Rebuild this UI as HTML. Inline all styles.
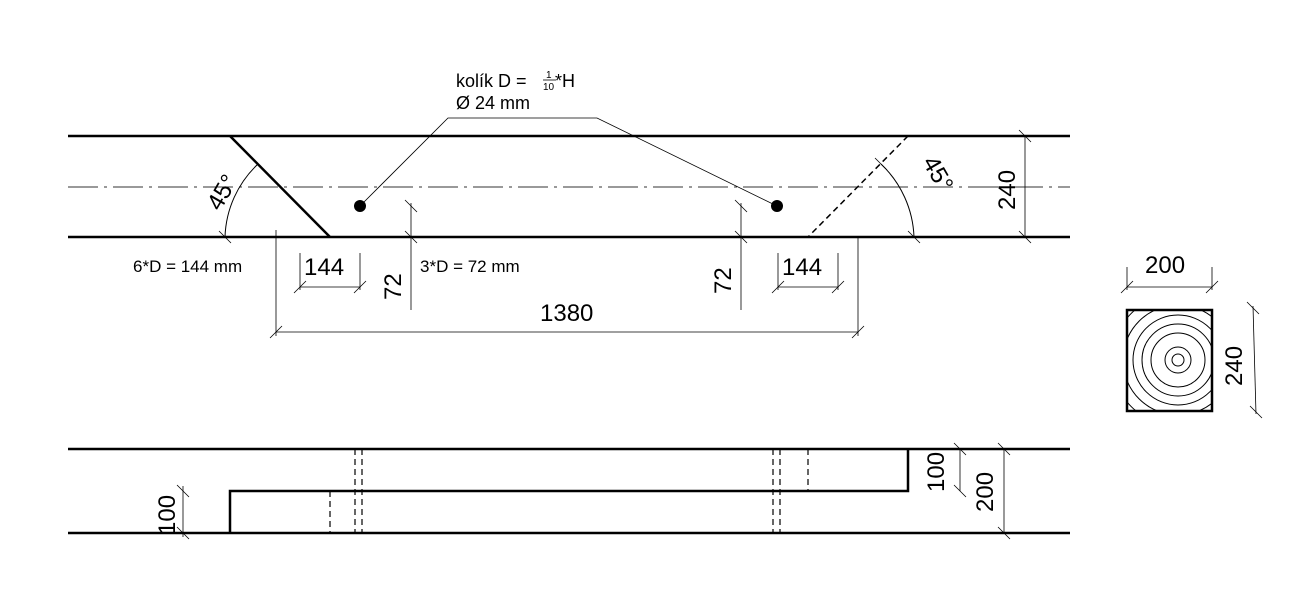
<!DOCTYPE html>
<html><head><meta charset="utf-8"><style>html,body{margin:0;padding:0;background:#fff}svg{display:block}text{font-family:"Liberation Sans",Arial,sans-serif;fill:#000}</style></head><body>
<svg width="1301" height="611" viewBox="0 0 1301 611" xmlns="http://www.w3.org/2000/svg">
<defs><clipPath id="cs"><rect x="1128" y="311" width="83" height="99"/></clipPath></defs>
<g stroke="#000" fill="none">
<line x1="68" y1="136" x2="1070" y2="136" stroke-width="2.5"/>
<line x1="68" y1="237" x2="1070" y2="237" stroke-width="2.5"/>
<line x1="68" y1="187" x2="1070" y2="187" stroke-width="1" stroke="#333" stroke-dasharray="30,6,3,6"/>
<line x1="230" y1="136" x2="330" y2="237" stroke-width="2.5"/>
<line x1="908" y1="136" x2="808" y2="237" stroke-width="1.5" stroke-dasharray="6,4"/>
<polyline points="360,206 448,118 597,118 777,206" stroke-width="0.8"/>
<path d="M225,237 A105,105 0 0 1 258,164" stroke-width="1"/>
<path d="M914,237 A106,106 0 0 0 881,164" stroke-width="1"/>
<g stroke-width="0.8">
<line x1="219" y1="231" x2="231" y2="243"/><line x1="252" y1="158" x2="264" y2="170"/>
<line x1="908" y1="231" x2="920" y2="243"/><line x1="875" y1="158" x2="887" y2="170"/>
<line x1="276" y1="230" x2="276" y2="336"/><line x1="858" y1="237" x2="858" y2="336"/>
<line x1="276" y1="332" x2="858" y2="332"/>
<line x1="270" y1="338" x2="282" y2="326"/><line x1="852" y1="338" x2="864" y2="326"/>
<line x1="300" y1="253" x2="300" y2="290"/><line x1="360" y1="253" x2="360" y2="290"/>
<line x1="300" y1="287" x2="360" y2="287"/>
<line x1="294" y1="293" x2="306" y2="281"/><line x1="354" y1="293" x2="366" y2="281"/>
<line x1="411" y1="203" x2="411" y2="310"/>
<line x1="405" y1="200" x2="417" y2="212"/><line x1="405" y1="231" x2="417" y2="243"/>
<line x1="741" y1="203" x2="741" y2="310"/>
<line x1="735" y1="200" x2="747" y2="212"/><line x1="735" y1="231" x2="747" y2="243"/>
<line x1="778" y1="253" x2="778" y2="290"/><line x1="838" y1="253" x2="838" y2="290"/>
<line x1="778" y1="287" x2="838" y2="287"/>
<line x1="772" y1="293" x2="784" y2="281"/><line x1="832" y1="293" x2="844" y2="281"/>
<line x1="1025" y1="136" x2="1025" y2="237"/>
<line x1="1019" y1="130" x2="1031" y2="142"/><line x1="1019" y1="231" x2="1031" y2="243"/>
<line x1="1127" y1="267" x2="1127" y2="290"/><line x1="1212" y1="267" x2="1212" y2="290"/>
<line x1="1127" y1="287" x2="1212" y2="287"/>
<line x1="1121" y1="293" x2="1133" y2="281"/><line x1="1206" y1="293" x2="1218" y2="281"/>
<line x1="1253" y1="306" x2="1256" y2="414"/>
<line x1="1247" y1="302" x2="1259" y2="314"/><line x1="1250" y1="406" x2="1262" y2="418"/>
<line x1="183" y1="486" x2="183" y2="537"/>
<line x1="177" y1="485" x2="189" y2="497"/><line x1="177" y1="527" x2="189" y2="539"/>
<line x1="960" y1="449" x2="960" y2="491"/>
<line x1="954" y1="443" x2="966" y2="455"/><line x1="954" y1="485" x2="966" y2="497"/>
<line x1="1004" y1="449" x2="1004" y2="533"/>
<line x1="998" y1="443" x2="1010" y2="455"/><line x1="998" y1="527" x2="1010" y2="539"/>
</g>
<g clip-path="url(#cs)" stroke-width="1">
<circle cx="1178" cy="360" r="6"/><circle cx="1178" cy="360" r="13"/><circle cx="1178" cy="360" r="27"/><circle cx="1178" cy="360" r="36"/><circle cx="1178" cy="360" r="45"/><circle cx="1178" cy="360" r="55"/><circle cx="1178" cy="360" r="66"/><circle cx="1178" cy="360" r="78"/>
</g>
<rect x="1127" y="310" width="85" height="101" stroke-width="2.5"/>
<line x1="68" y1="449" x2="1070" y2="449" stroke-width="2.5"/>
<line x1="68" y1="533" x2="1070" y2="533" stroke-width="2.5"/>
<polyline points="230,533 230,491 908,491 908,449" stroke-width="2.5"/>
<g stroke-width="1.2" stroke-dasharray="6,4">
<line x1="355" y1="449" x2="355" y2="533"/><line x1="362" y1="449" x2="362" y2="533"/>
<line x1="773" y1="449" x2="773" y2="533"/><line x1="780" y1="449" x2="780" y2="533"/>
<line x1="330" y1="491" x2="330" y2="533"/><line x1="808" y1="449" x2="808" y2="491"/>
</g>
</g>
<circle cx="360" cy="206" r="6"/><circle cx="777" cy="206" r="6"/>
<text x="456" y="87" font-size="18">kolík D =</text>
<text x="546" y="78" font-size="10">1</text><line x1="543" y1="80" x2="556" y2="80" stroke="#000" stroke-width="0.8"/><text x="543" y="90" font-size="10">10</text>
<text x="555" y="87" font-size="18">*H</text>
<text x="456" y="109" font-size="18">Ø 24 mm</text>
<text x="133" y="272" font-size="17">6*D = 144 mm</text>
<text x="420" y="272" font-size="17">3*D = 72 mm</text>
<text x="304" y="275" font-size="24">144</text>
<text x="782" y="275" font-size="24">144</text>
<text x="540" y="321" font-size="24">1380</text>
<text x="1145" y="273" font-size="24">200</text>
<text transform="translate(401,300) rotate(-90)" font-size="24">72</text>
<text transform="translate(731,294) rotate(-90)" font-size="24">72</text>
<text transform="translate(1015,210) rotate(-90)" font-size="24">240</text>
<text transform="translate(1242,386) rotate(-90)" font-size="24">240</text>
<text transform="translate(220,212) rotate(-60)" font-size="24">45°</text>
<text transform="translate(922,162) rotate(60)" font-size="24">45°</text>
<text transform="translate(175,535) rotate(-90)" font-size="24">100</text>
<text transform="translate(944,492) rotate(-90)" font-size="24">100</text>
<text transform="translate(993,512) rotate(-90)" font-size="24">200</text>
</svg>
</body></html>
